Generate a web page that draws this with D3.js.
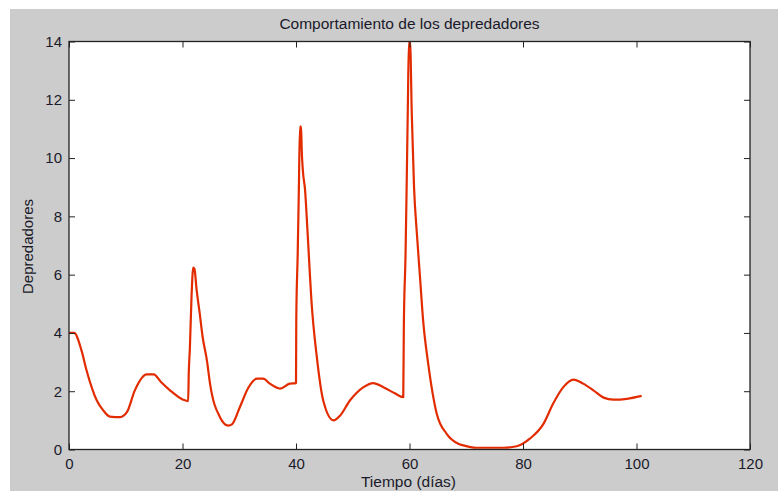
<!DOCTYPE html>
<html>
<head>
<meta charset="utf-8">
<script src="https://cdnjs.cloudflare.com/ajax/libs/d3/7.8.5/d3.min.js"></script>
<style>
  body { margin: 0; background: #fff; }
  svg { display: block; }
  text { font-family: Arial, "Liberation Sans", sans-serif; fill: #1a1a2a; }
</style>
</head>
<body>
<div id="chart"></div>
<script>
// tiempo (dias) y depredadores
var tiempo = [0, 0.9, 2.2, 3.1, 4.9, 6.0, 7.2, 9.0, 10.2, 11.6, 13.7, 14.9, 16.3, 17.8, 20.1, 21.0,
  21.1, 21.3, 21.6, 21.9, 22.1, 22.5, 23.0, 23.55, 24.3, 24.85, 26.6, 28.1, 28.7, 30.1, 31.6, 33.1,
  34.2, 35.4, 37.2, 38.9, 40.0, 40.05, 40.3, 40.5, 40.7, 40.9, 41.0, 41.2, 41.6, 42.05, 42.8, 43.6,
  44.8, 46.6, 47.8, 49.5, 51.9, 53.6, 55.4, 57.4, 58.9, 59.0, 59.3, 59.5, 59.7, 59.9, 60.1, 60.4,
  60.8, 61.3, 61.85, 62.4, 63.3, 64.8, 66.55, 68.6, 69.5, 71.8, 76.5, 78.9, 81.2, 83.6, 85.3, 87.1,
  88.9, 90.6, 92.4, 94.2, 95.9, 98.3, 100.9];
var depredadores = [4.0, 4.0, 3.4, 2.71, 1.68, 1.35, 1.13, 1.11, 1.28, 2.03, 2.58, 2.58, 2.3, 2.03, 1.71, 1.66,
  2.6, 3.47, 5.29, 6.24, 6.2, 5.46, 4.72, 3.86, 3.06, 2.26, 1.11, 0.82, 0.86, 1.45, 2.12, 2.43,
  2.43, 2.26, 2.09, 2.26, 2.28, 4.49, 6.72, 8.9, 11.08, 11.08, 10.33, 9.6, 8.9, 7.41, 4.89, 3.29,
  1.68, 1.0, 1.17, 1.68, 2.14, 2.28, 2.14, 1.93, 1.80, 4.2, 6.67, 9.07, 11.65, 14.0, 14.0, 11.53,
  9.0, 7.41, 5.92, 4.43, 2.94, 1.23, 0.54, 0.2, 0.14, 0.06, 0.06, 0.11, 0.37, 0.88, 1.57, 2.14,
  2.40, 2.26, 2.03, 1.78, 1.71, 1.74, 1.84];
var xTicks = [0, 20, 40, 60, 80, 100, 120];
var yTicks = [0, 2, 4, 6, 8, 10, 12, 14];

var W = 778, H = 491;
var margin = {left: 69, top: 41.5, right: 28, bottom: 41.5};
var iw = W - margin.left - margin.right,
    ih = H - margin.top - margin.bottom;

var svg = d3.select("#chart").append("svg")
    .attr("width", W)
    .attr("height", H);

// fondo gris de la figura
svg.append("rect")
    .attr("x", 10).attr("y", 9)
    .attr("width", W - 10).attr("height", H - 9)
    .attr("fill", "#cccccc");

var g = svg.append("g")
    .attr("transform", "translate(" + margin.left + "," + margin.top + ")");

var x = d3.scaleLinear().domain([0, 120]).range([0, iw]);
var y = d3.scaleLinear().domain([0, 14]).range([ih, 0]);

g.append("rect")
    .attr("width", iw).attr("height", ih)
    .attr("fill", "#fff");

var datos = tiempo.map(function(t, i) { return [t, depredadores[i]]; });

g.append("clipPath").attr("id", "clip")
  .append("rect").attr("width", iw).attr("height", ih);

var line = d3.line()
    .curve(d3.curveMonotoneX)
    .x(function(d) { return x(d[0]); })
    .y(function(d) { return y(d[1]); });

g.append("path")
    .datum(datos)
    .attr("clip-path", "url(#clip)")
    .attr("fill", "none")
    .attr("stroke", "#e22c00")
    .attr("stroke-width", 2.2)
    .attr("stroke-linejoin", "round")
    .attr("d", line);

// ejes estilo matlab, ticks hacia dentro
var tk = 6;
g.append("g")
    .attr("transform", "translate(0," + ih + ")")
    .call(d3.axisBottom(x).tickValues(xTicks).tickSizeInner(-tk).tickSizeOuter(0).tickPadding(9))
    .call(function(a) { a.select(".domain").remove(); });
g.append("g")
    .call(d3.axisTop(x).tickValues(xTicks).tickSizeInner(-tk).tickSizeOuter(0).tickFormat(""))
    .call(function(a) { a.select(".domain").remove(); });
g.append("g")
    .call(d3.axisLeft(y).tickValues(yTicks).tickSizeInner(-tk).tickSizeOuter(0).tickPadding(7))
    .call(function(a) { a.select(".domain").remove(); });
g.append("g")
    .attr("transform", "translate(" + iw + ",0)")
    .call(d3.axisRight(y).tickValues(yTicks).tickSizeInner(-tk).tickSizeOuter(0).tickFormat(""))
    .call(function(a) { a.select(".domain").remove(); });

g.selectAll(".tick line").attr("stroke", "#222");
g.selectAll(".tick text")
    .style("font-size", "15px")
    .style("font-family", "Arial, 'Liberation Sans', sans-serif")
    .attr("fill", "#1a1a2a");

// caja
g.append("rect")
    .attr("width", iw).attr("height", ih)
    .attr("fill", "none")
    .attr("stroke", "#222")
    .attr("stroke-width", 1.3);

svg.append("text")
    .attr("x", margin.left + iw / 2).attr("y", 29)
    .attr("text-anchor", "middle")
    .style("font-size", "15.5px")
    .text("Comportamiento de los depredadores");

svg.append("text")
    .attr("x", margin.left + iw / 2 - 1).attr("y", 487)
    .attr("text-anchor", "middle")
    .style("font-size", "15.5px")
    .text("Tiempo (días)");

svg.append("text")
    .attr("transform", "translate(33," + (margin.top + ih / 2 + 1) + ") rotate(-90)")
    .attr("text-anchor", "middle")
    .style("font-size", "15px")
    .text("Depredadores");
</script>
</body>
</html>
